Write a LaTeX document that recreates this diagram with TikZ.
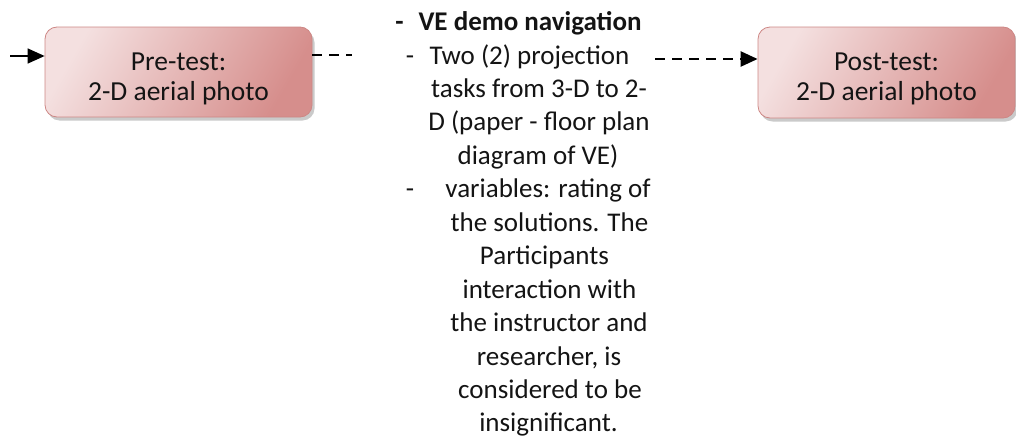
\documentclass[tikz,border=0pt]{standalone}
\usepackage{fontspec}
\setmainfont{Carlito}
\usetikzlibrary{shadows,arrows.meta}
\definecolor{boxlight}{RGB}{244,224,224}
\definecolor{boxdark}{RGB}{214,142,140}
\definecolor{boxedge}{RGB}{205,135,133}
\definecolor{txt}{RGB}{20,20,20}
\tikzset{
  testbox/.style={draw=boxedge, line width=0.8pt, rounded corners=12pt,
    left color=boxlight, right color=boxdark, shading angle=60,
    align=center, text=txt, font=\fontsize{27.5}{30}\selectfont,
    drop shadow={shadow xshift=2.5pt, shadow yshift=-3.5pt, opacity=0.35, fill=black!60}},
  line/.style={anchor=base, inner sep=0pt, text=txt, font=\fontsize{27}{33}\selectfont},
  boldline/.style={line, font=\fontsize{27}{33}\selectfont\bfseries},
  dashline/.style={line width=2.5pt, dash pattern=on 10pt off 7pt},
  tip/.style={-{Triangle[length=17pt,width=15pt]}}
}
\begin{document}
\begin{tikzpicture}[x=1pt,y=-1pt]
\useasboundingbox (0,0) rectangle (1016,439);
% boxes
\node[testbox, minimum width=267pt, minimum height=90pt] (pre) at (178.5,72) {\rule{0pt}{31pt}Pre-test:\\2-D aerial photo};
\node[testbox, minimum width=257pt, minimum height=91pt] (post) at (886.5,72.5) {\rule{0pt}{31pt}Post-test:\\2-D aerial photo};
% connectors
\coordinate (start) at (10,56);
\coordinate (d1) at (352,55);
\coordinate (d2) at (655,59);
\draw[tip, line width=1.5pt] (start) -- (start -| pre.west);
\draw[dashline] (pre.east |- d1) -- (d1);
\draw[dashline, tip] (d2) -- (d2 -| post.west);
% central text
\node[boldline] (m0) at (399.5,30.5) {-};
\node[line] (m1) at (410,64) {-};
\node[line] (m2) at (410,197.8) {-};
\node[boldline] (l1) at (530,30.5) {VE demo navigation};
\node[line] (l2) at (529.5,64) {Two (2) projection};
\node[line] (l3) at (539,97.4) {tasks from 3-D to 2-};
\node[line] (l4) at (539,130.9) {D (paper - floor plan};
\node[line] (l5) at (538,164.3) {diagram of VE)};
\node[line] (l6) at (548,197.8) {variables: rating of};
\node[line] (l7) at (549.5,231.2) {the solutions. The};
\node[line] (l8) at (544.5,264.7) {Participants};
\node[line] (l9) at (549.5,298.1) {interaction with};
\node[line] (l10) at (549,331.6) {the instructor and};
\node[line] (l11) at (549,365) {researcher, is};
\node[line] (l12) at (550,398.5) {considered to be};
\node[line] (l13) at (548.5,431.9) {insignificant.};
\end{tikzpicture}
\end{document}
